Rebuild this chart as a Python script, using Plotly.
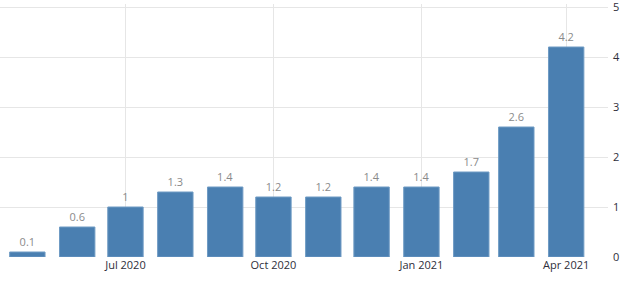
import plotly.graph_objects as go

months = ["2020-05-01", "2020-06-01", "2020-07-01", "2020-08-01", "2020-09-01", "2020-10-01",
          "2020-11-01", "2020-12-01", "2021-01-01", "2021-02-01", "2021-03-01", "2021-04-01"]
values = [0.1, 0.6, 1, 1.3, 1.4, 1.2, 1.2, 1.4, 1.4, 1.7, 2.6, 4.2]
labels = ["0.1", "0.6", "1", "1.3", "1.4", "1.2", "1.2", "1.4", "1.4", "1.7", "2.6", "4.2"]
y_ticks = [0, 1, 2, 3, 4, 5]

DAY_MS = 86400000

fig = go.Figure(go.Bar(
    x=months, y=values, text=labels, textposition="outside",
    textfont=dict(color="#8a8a8a", size=11, family="Open Sans"),
    marker=dict(color="#4a7fb1", line=dict(color="#6f9bc4", width=1)),
    width=[22 * DAY_MS] * len(months),
    cliponaxis=False,
))

fig.update_layout(
    width=634, height=287,
    margin=dict(l=0, r=26, t=4, b=30),
    paper_bgcolor="white", plot_bgcolor="white",
    showlegend=False,
    font=dict(family="Open Sans", size=11, color="#2e2e3a"),
    xaxis=dict(
        type="date", range=["2020-04-14", "2021-04-27"],
        tick0="2020-01-01", dtick="M3", tickformat="%b %Y",
        showgrid=True, gridcolor="#e6e6e6", gridwidth=1,
        zeroline=False, showline=False, ticks="",
        tickfont=dict(size=11, color="#2e2e3a"),
    ),
    yaxis=dict(
        side="right", range=[0, 5.06],
        tickmode="array", tickvals=y_ticks, ticktext=[str(v) for v in y_ticks],
        showgrid=True, gridcolor="#e6e6e6", gridwidth=1,
        zeroline=False, showline=False, ticks="",
        ticklabelstandoff=4, ticklabeloverflow="allow",
        tickfont=dict(size=11, color="#2e2e3a"),
    ),
)

fig.write_html("out.html")
